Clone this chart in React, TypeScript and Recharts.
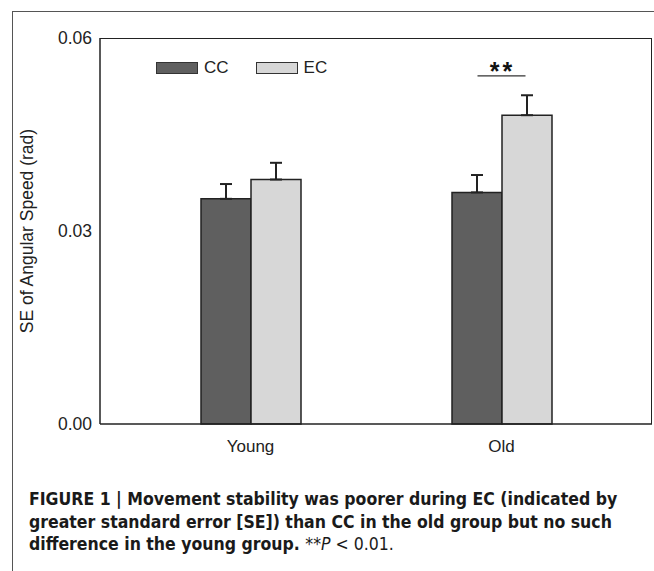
import React from "react";
import { BarChart, Bar, XAxis, YAxis, ErrorBar, ReferenceDot } from "recharts";

const groups = ["Young", "Old"];
const ccValues = [0.035, 0.036];
const ecValues = [0.038, 0.048];
const ccErrors = [0.0023, 0.0027];
const ecErrors = [0.0026, 0.0031];
const yTicks = [0, 0.03, 0.06];
const seriesNames = ["CC", "EC"];
const sigLabel = "**";
const sigLevel = 0.0541;

const data = groups.map((g, i) => ({
  group: g,
  CC: ccValues[i],
  EC: ecValues[i],
  ccErr: [0, ccErrors[i]],
  ecErr: [0, ecErrors[i]],
}));

const fills: Record<string, string> = { CC: "#5f5f5f", EC: "#d7d7d7" };
const FONT = "Liberation Sans, Arial, sans-serif";

const LegendBox = () => (
  <div style={{ position: "absolute", left: 156, top: 58, display: "flex", alignItems: "center", fontFamily: FONT, fontSize: 17, color: "#222" }}>
    {seriesNames.map((n, i) => (
      <div key={n} style={{ display: "flex", alignItems: "center", marginRight: i === 0 ? 27 : 0 }}>
        <div style={{ width: 40, height: 10, background: fills[n], border: "1px solid #333", marginRight: 6 }} />
        <span>{n}</span>
      </div>
    ))}
  </div>
);

const SigShape = (props: any) => {
  const { cx, cy } = props;
  return (
    <g>
      <line x1={cx - 24} x2={cx + 24} y1={cy} y2={cy} stroke="#333" strokeWidth={1.2} />
      <text x={cx + 1} y={cy + 4} textAnchor="middle" fontFamily={FONT} fontWeight="bold" fontSize={25} letterSpacing={3} fill="#111">
        {sigLabel}
      </text>
    </g>
  );
};

export default function App() {
  return (
    <div style={{ position: "absolute", left: 0, top: 0, width: 654, height: 571, background: "#fff", overflow: "hidden" }}>
      <div style={{ position: "absolute", left: 12, top: 11, width: 660, height: 580, borderLeft: "1.5px solid #555", borderTop: "1.5px solid #555" }} />
      <div style={{ position: "absolute", left: 0, top: 0 }}>
        <BarChart width={654} height={460} data={data} margin={{ top: 38, right: 2, left: 0, bottom: 6 }} barGap={0} barSize={50}>
          <XAxis dataKey="group" padding={{ left: 25, right: 25 }} tickLine={false} axisLine={{ stroke: "#222", strokeWidth: 1.5 }}
            tick={{ fill: "#222", fontSize: 17, fontFamily: FONT }} height={30} tickMargin={10} />
          <YAxis domain={[0, 0.06]} ticks={yTicks} width={100} tickLine={false} axisLine={{ stroke: "#222", strokeWidth: 1.5 }}
            tickFormatter={(v: number) => v.toFixed(2)}
            tick={{ fill: "#222", fontSize: 17.5, fontFamily: FONT }}
            label={{ value: "SE of Angular Speed (rad)", angle: -90, position: "insideLeft", offset: 27, style: { textAnchor: "middle", fontSize: 17.5, fill: "#222", fontFamily: FONT } }} />
          <Bar dataKey="CC" fill={fills.CC} stroke="#222" strokeWidth={1.5} isAnimationActive={false}>
            <ErrorBar dataKey="ccErr" width={6} stroke="#222" strokeWidth={2} direction="y" />
          </Bar>
          <Bar dataKey="EC" fill={fills.EC} stroke="#222" strokeWidth={1.5} isAnimationActive={false}>
            <ErrorBar dataKey="ecErr" width={6} stroke="#222" strokeWidth={2} direction="y" />
          </Bar>
          <ReferenceDot x="Old" y={sigLevel} r={0} shape={<SigShape />} ifOverflow="visible" />
        </BarChart>
      </div>
      <div style={{ position: "absolute", left: 100, top: 38, width: 552, height: 386, borderTop: "1.5px solid #222", borderRight: "1.5px solid #222", boxSizing: "border-box", pointerEvents: "none" }} />
      <LegendBox />
      <div style={{ position: "absolute", left: 29, top: 488, fontFamily: "Liberation Sans Narrow, DejaVu Sans Condensed, sans-serif", fontSize: 17.5, lineHeight: "22.5px", color: "#1a1a1a", fontWeight: "bold" }}>
        <div>FIGURE 1 | Movement stability was poorer during EC (indicated by</div>
        <div>greater standard error [SE]) than CC in the old group but no such</div>
        <div>
          difference in the young group.{" "}
          <span style={{ fontWeight: "normal" }}>
            **<i>P</i> &lt; 0.01.
          </span>
        </div>
      </div>
    </div>
  );
}
